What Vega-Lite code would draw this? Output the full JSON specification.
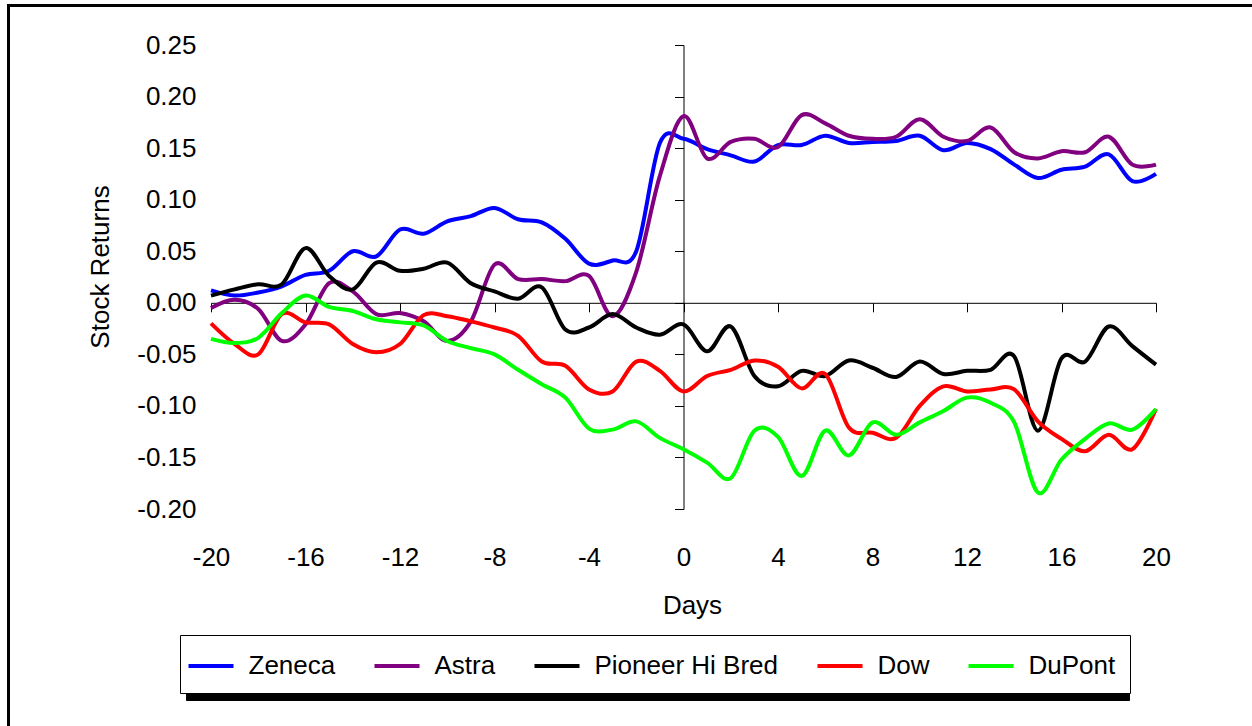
{
  "$schema": "https://vega.github.io/schema/vega-lite/v6.json",
  "width": 945,
  "height": 464,
  "autosize": {"type": "none"},
  "padding": {"left": 211, "top": 45, "right": 96, "bottom": 217},
  "background": "white",
  "data": {"values": [
    {"d":-20,"s":"Zeneca","v":0.012},{"d":-19,"s":"Zeneca","v":0.007},{"d":-18,"s":"Zeneca","v":0.010},{"d":-17,"s":"Zeneca","v":0.016},{"d":-16,"s":"Zeneca","v":0.027},{"d":-15,"s":"Zeneca","v":0.031},{"d":-14,"s":"Zeneca","v":0.050},{"d":-13,"s":"Zeneca","v":0.045},{"d":-12,"s":"Zeneca","v":0.071},{"d":-11,"s":"Zeneca","v":0.067},
    {"d":-10,"s":"Zeneca","v":0.079},{"d":-9,"s":"Zeneca","v":0.084},{"d":-8,"s":"Zeneca","v":0.092},{"d":-7,"s":"Zeneca","v":0.081},{"d":-6,"s":"Zeneca","v":0.078},{"d":-5,"s":"Zeneca","v":0.062},{"d":-4,"s":"Zeneca","v":0.038},{"d":-3,"s":"Zeneca","v":0.041},{"d":-2,"s":"Zeneca","v":0.050},{"d":-1,"s":"Zeneca","v":0.155},
    {"d":0,"s":"Zeneca","v":0.159},{"d":1,"s":"Zeneca","v":0.149},{"d":2,"s":"Zeneca","v":0.143},{"d":3,"s":"Zeneca","v":0.137},{"d":4,"s":"Zeneca","v":0.153},{"d":5,"s":"Zeneca","v":0.153},{"d":6,"s":"Zeneca","v":0.162},{"d":7,"s":"Zeneca","v":0.155},{"d":8,"s":"Zeneca","v":0.156},{"d":9,"s":"Zeneca","v":0.157},
    {"d":10,"s":"Zeneca","v":0.162},{"d":11,"s":"Zeneca","v":0.148},{"d":12,"s":"Zeneca","v":0.155},{"d":13,"s":"Zeneca","v":0.149},{"d":14,"s":"Zeneca","v":0.134},{"d":15,"s":"Zeneca","v":0.121},{"d":16,"s":"Zeneca","v":0.129},{"d":17,"s":"Zeneca","v":0.132},{"d":18,"s":"Zeneca","v":0.144},{"d":19,"s":"Zeneca","v":0.118},{"d":20,"s":"Zeneca","v":0.125},

    {"d":-20,"s":"Astra","v":-0.005},{"d":-19,"s":"Astra","v":0.003},{"d":-18,"s":"Astra","v":-0.006},{"d":-17,"s":"Astra","v":-0.037},{"d":-16,"s":"Astra","v":-0.021},{"d":-15,"s":"Astra","v":0.019},{"d":-14,"s":"Astra","v":0.011},{"d":-13,"s":"Astra","v":-0.011},{"d":-12,"s":"Astra","v":-0.010},{"d":-11,"s":"Astra","v":-0.018},
    {"d":-10,"s":"Astra","v":-0.037},{"d":-9,"s":"Astra","v":-0.018},{"d":-8,"s":"Astra","v":0.037},{"d":-7,"s":"Astra","v":0.023},{"d":-6,"s":"Astra","v":0.023},{"d":-5,"s":"Astra","v":0.021},{"d":-4,"s":"Astra","v":0.026},{"d":-3,"s":"Astra","v":-0.013},{"d":-2,"s":"Astra","v":0.030},{"d":-1,"s":"Astra","v":0.123},
    {"d":0,"s":"Astra","v":0.181},{"d":1,"s":"Astra","v":0.140},{"d":2,"s":"Astra","v":0.156},{"d":3,"s":"Astra","v":0.159},{"d":4,"s":"Astra","v":0.151},{"d":5,"s":"Astra","v":0.182},{"d":6,"s":"Astra","v":0.174},{"d":7,"s":"Astra","v":0.162},{"d":8,"s":"Astra","v":0.159},{"d":9,"s":"Astra","v":0.161},
    {"d":10,"s":"Astra","v":0.178},{"d":11,"s":"Astra","v":0.161},{"d":12,"s":"Astra","v":0.157},{"d":13,"s":"Astra","v":0.170},{"d":14,"s":"Astra","v":0.146},{"d":15,"s":"Astra","v":0.140},{"d":16,"s":"Astra","v":0.147},{"d":17,"s":"Astra","v":0.146},{"d":18,"s":"Astra","v":0.161},{"d":19,"s":"Astra","v":0.134},{"d":20,"s":"Astra","v":0.134},

    {"d":-20,"s":"Pioneer Hi Bred","v":0.007},{"d":-19,"s":"Pioneer Hi Bred","v":0.013},{"d":-18,"s":"Pioneer Hi Bred","v":0.018},{"d":-17,"s":"Pioneer Hi Bred","v":0.018},{"d":-16,"s":"Pioneer Hi Bred","v":0.053},{"d":-15,"s":"Pioneer Hi Bred","v":0.026},{"d":-14,"s":"Pioneer Hi Bred","v":0.013},{"d":-13,"s":"Pioneer Hi Bred","v":0.039},{"d":-12,"s":"Pioneer Hi Bred","v":0.031},{"d":-11,"s":"Pioneer Hi Bred","v":0.033},
    {"d":-10,"s":"Pioneer Hi Bred","v":0.039},{"d":-9,"s":"Pioneer Hi Bred","v":0.019},{"d":-8,"s":"Pioneer Hi Bred","v":0.011},{"d":-7,"s":"Pioneer Hi Bred","v":0.004},{"d":-6,"s":"Pioneer Hi Bred","v":0.015},{"d":-5,"s":"Pioneer Hi Bred","v":-0.026},{"d":-4,"s":"Pioneer Hi Bred","v":-0.024},{"d":-3,"s":"Pioneer Hi Bred","v":-0.011},{"d":-2,"s":"Pioneer Hi Bred","v":-0.024},{"d":-1,"s":"Pioneer Hi Bred","v":-0.031},
    {"d":0,"s":"Pioneer Hi Bred","v":-0.021},{"d":1,"s":"Pioneer Hi Bred","v":-0.047},{"d":2,"s":"Pioneer Hi Bred","v":-0.023},{"d":3,"s":"Pioneer Hi Bred","v":-0.071},{"d":4,"s":"Pioneer Hi Bred","v":-0.081},{"d":5,"s":"Pioneer Hi Bred","v":-0.066},{"d":6,"s":"Pioneer Hi Bred","v":-0.071},{"d":7,"s":"Pioneer Hi Bred","v":-0.056},{"d":8,"s":"Pioneer Hi Bred","v":-0.063},{"d":9,"s":"Pioneer Hi Bred","v":-0.072},
    {"d":10,"s":"Pioneer Hi Bred","v":-0.057},{"d":11,"s":"Pioneer Hi Bred","v":-0.069},{"d":12,"s":"Pioneer Hi Bred","v":-0.066},{"d":13,"s":"Pioneer Hi Bred","v":-0.065},{"d":14,"s":"Pioneer Hi Bred","v":-0.052},{"d":15,"s":"Pioneer Hi Bred","v":-0.124},{"d":16,"s":"Pioneer Hi Bred","v":-0.054},{"d":17,"s":"Pioneer Hi Bred","v":-0.057},{"d":18,"s":"Pioneer Hi Bred","v":-0.023},{"d":19,"s":"Pioneer Hi Bred","v":-0.042},{"d":20,"s":"Pioneer Hi Bred","v":-0.060},

    {"d":-20,"s":"Dow","v":-0.020},{"d":-19,"s":"Dow","v":-0.040},{"d":-18,"s":"Dow","v":-0.050},{"d":-17,"s":"Dow","v":-0.011},{"d":-16,"s":"Dow","v":-0.019},{"d":-15,"s":"Dow","v":-0.021},{"d":-14,"s":"Dow","v":-0.040},{"d":-13,"s":"Dow","v":-0.048},{"d":-12,"s":"Dow","v":-0.040},{"d":-11,"s":"Dow","v":-0.012},
    {"d":-10,"s":"Dow","v":-0.013},{"d":-9,"s":"Dow","v":-0.018},{"d":-8,"s":"Dow","v":-0.024},{"d":-7,"s":"Dow","v":-0.032},{"d":-6,"s":"Dow","v":-0.057},{"d":-5,"s":"Dow","v":-0.061},{"d":-4,"s":"Dow","v":-0.084},{"d":-3,"s":"Dow","v":-0.086},{"d":-2,"s":"Dow","v":-0.057},{"d":-1,"s":"Dow","v":-0.066},
    {"d":0,"s":"Dow","v":-0.086},{"d":1,"s":"Dow","v":-0.071},{"d":2,"s":"Dow","v":-0.065},{"d":3,"s":"Dow","v":-0.056},{"d":4,"s":"Dow","v":-0.062},{"d":5,"s":"Dow","v":-0.083},{"d":6,"s":"Dow","v":-0.069},{"d":7,"s":"Dow","v":-0.121},{"d":8,"s":"Dow","v":-0.126},{"d":9,"s":"Dow","v":-0.131},
    {"d":10,"s":"Dow","v":-0.100},{"d":11,"s":"Dow","v":-0.081},{"d":12,"s":"Dow","v":-0.086},{"d":13,"s":"Dow","v":-0.084},{"d":14,"s":"Dow","v":-0.084},{"d":15,"s":"Dow","v":-0.115},{"d":16,"s":"Dow","v":-0.132},{"d":17,"s":"Dow","v":-0.144},{"d":18,"s":"Dow","v":-0.128},{"d":19,"s":"Dow","v":-0.142},{"d":20,"s":"Dow","v":-0.103},

    {"d":-20,"s":"DuPont","v":-0.035},{"d":-19,"s":"DuPont","v":-0.039},{"d":-18,"s":"DuPont","v":-0.034},{"d":-17,"s":"DuPont","v":-0.010},{"d":-16,"s":"DuPont","v":0.007},{"d":-15,"s":"DuPont","v":-0.004},{"d":-14,"s":"DuPont","v":-0.008},{"d":-13,"s":"DuPont","v":-0.016},{"d":-12,"s":"DuPont","v":-0.019},{"d":-11,"s":"DuPont","v":-0.022},
    {"d":-10,"s":"DuPont","v":-0.037},{"d":-9,"s":"DuPont","v":-0.044},{"d":-8,"s":"DuPont","v":-0.050},{"d":-7,"s":"DuPont","v":-0.065},{"d":-6,"s":"DuPont","v":-0.079},{"d":-5,"s":"DuPont","v":-0.092},{"d":-4,"s":"DuPont","v":-0.122},{"d":-3,"s":"DuPont","v":-0.123},{"d":-2,"s":"DuPont","v":-0.115},{"d":-1,"s":"DuPont","v":-0.131},
    {"d":0,"s":"DuPont","v":-0.142},{"d":1,"s":"DuPont","v":-0.155},{"d":2,"s":"DuPont","v":-0.170},{"d":3,"s":"DuPont","v":-0.124},{"d":4,"s":"DuPont","v":-0.130},{"d":5,"s":"DuPont","v":-0.168},{"d":6,"s":"DuPont","v":-0.124},{"d":7,"s":"DuPont","v":-0.148},{"d":8,"s":"DuPont","v":-0.116},{"d":9,"s":"DuPont","v":-0.128},
    {"d":10,"s":"DuPont","v":-0.116},{"d":11,"s":"DuPont","v":-0.105},{"d":12,"s":"DuPont","v":-0.092},{"d":13,"s":"DuPont","v":-0.097},{"d":14,"s":"DuPont","v":-0.116},{"d":15,"s":"DuPont","v":-0.184},{"d":16,"s":"DuPont","v":-0.152},{"d":17,"s":"DuPont","v":-0.132},{"d":18,"s":"DuPont","v":-0.117},{"d":19,"s":"DuPont","v":-0.123},{"d":20,"s":"DuPont","v":-0.103}
  ]},
  "config": {
    "view": {"stroke": null},
    "font": "Liberation Sans",
    "locale": {"number": {"decimal": ".", "thousands": ",", "grouping": [3], "currency": ["$", ""], "minus": "-"}},
    "axis": {
      "labelFont": "Liberation Sans", "labelFontSize": 26, "labelColor": "black",
      "titleFont": "Liberation Sans", "titleFontSize": 26, "titleFontWeight": "normal", "titleColor": "black",
      "grid": false, "domainColor": "black", "domainWidth": 1, "tickColor": "black", "tickWidth": 1, "tickSize": 9,
      "labelFlush": false, "labelOverlap": false
    },
    "legend": {
      "labelFont": "Liberation Sans", "labelFontSize": 26, "labelColor": "black", "labelLimit": 400,
      "symbolType": "M-1.5,0H1.5", "symbolSize": 900, "symbolStrokeWidth": 4,
      "labelOffset": 20.5, "columnPadding": 30, "padding": 14,
      "direction": "horizontal", "orient": "none"
    }
  },
  "layer": [
    {
      "mark": {"type": "line", "interpolate": "cardinal", "strokeWidth": 4, "clip": false},
      "encoding": {
        "x": {
          "field": "d", "type": "quantitative",
          "scale": {"domain": [-20, 20], "nice": false, "zero": false},
          "axis": {
            "title": "Days", "values": [-20, -16, -12, -8, -4, 0, 4, 8, 12, 16, 20], "format": "d",
            "offset": -206.2, "labelPadding": 233,
            "titleX": 481, "titleY": 311, "titleBaseline": "alphabetic", "titleAlign": "center", "titleAngle": 0
          }
        },
        "y": {
          "field": "v", "type": "quantitative",
          "scale": {"domain": [-0.2, 0.25], "nice": false, "zero": false},
          "axis": {
            "title": "Stock Returns", "values": [-0.2, -0.15, -0.1, -0.05, 0, 0.05, 0.1, 0.15, 0.2, 0.25], "format": ".2f",
            "offset": -472.5, "labelPadding": 478.5,
            "titleX": -575.5, "titleY": 221.5, "titleBaseline": "alphabetic", "titleAlign": "center", "titleAngle": -90
          }
        },
        "color": {
          "field": "s", "type": "nominal",
          "scale": {
            "domain": ["Zeneca", "Astra", "Pioneer Hi Bred", "Dow", "DuPont"],
            "range": ["#0000FF", "#800080", "#000000", "#FF0000", "#00FF00"]
          },
          "legend": {"title": null, "legendX": -31, "legendY": 590, "fillColor": "white", "strokeColor": "black", "zindex": 2}
        }
      }
    },
    {
      "mark": {"type": "line", "interpolate": "cardinal", "strokeOpacity": 0, "clip": false},
      "encoding": {
        "x": {"field": "d", "type": "quantitative"},
        "y": {"field": "v", "type": "quantitative"},
        "strokeDash": {
          "field": "s", "type": "nominal",
          "legend": {"title": null, "legendX": -25, "legendY": 597, "fillColor": "black", "strokeColor": "black", "labelColor": "black", "symbolStrokeColor": "black", "labelExpr": "''", "columnPadding": 146, "zindex": 1}
        }
      }
    },
    {
      "mark": {"type": "rule", "color": "black", "strokeWidth": 2, "clip": false},
      "encoding": {
        "x": {"datum": -28.57, "type": "quantitative"},
        "y": {"datum": 0.2895, "type": "quantitative"},
        "y2": {"datum": -0.42}
      }
    },
    {
      "mark": {"type": "rule", "color": "black", "strokeWidth": 2, "clip": false},
      "encoding": {
        "x": {"datum": -28.62, "type": "quantitative"},
        "x2": {"datum": 24.5},
        "y": {"datum": 0.2883, "type": "quantitative"}
      }
    }
  ]
}
